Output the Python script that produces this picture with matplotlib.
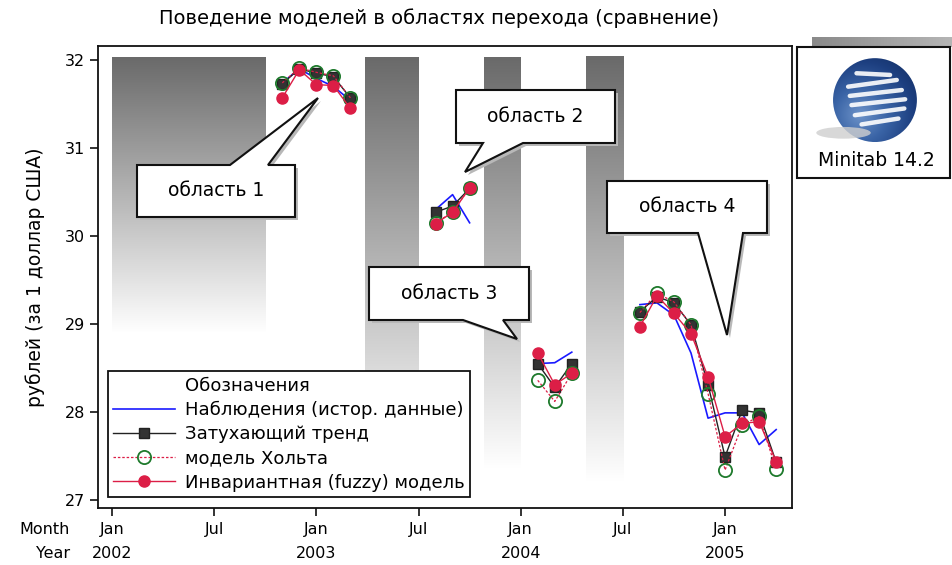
import numpy as np
import matplotlib
matplotlib.use("Agg")
import matplotlib.pyplot as plt
from matplotlib.colors import LinearSegmentedColormap
from matplotlib.lines import Line2D
from matplotlib.patches import Polygon, Rectangle, Circle, Ellipse

plt.rcParams['font.family'] = ['DejaVu Sans']

# ---------------- data ----------------
title = "Поведение моделей в областях перехода (сравнение)"
ylabel = "рублей (за 1 доллар США)"
series_names = ["Наблюдения (истор. данные)", "Затухающий тренд",
                "модель Хольта", "Инвариантная (fuzzy) модель"]
legend_title = "Обозначения"

# months counted from Jan 2002 (0 = Jan 2002)
region_months = [
    [10, 11, 12, 13, 14],                    # Nov 2002 - Mar 2003
    [19, 20, 21],                            # Aug 2003 - Oct 2003
    [25, 26, 27],                            # Feb 2004 - Apr 2004
    [31, 32, 33, 34, 35, 36, 37, 38, 39],    # Aug 2004 - Apr 2005
]
observed = [
    [31.74, 31.90, 31.79, 31.70, 31.54],
    [30.30, 30.47, 30.15],
    [28.55, 28.56, 28.68],
    [29.22, 29.24, 29.10, 28.67, 27.93, 27.99, 27.99, 27.63, 27.80],
]
damped = [
    [31.73, 31.90, 31.85, 31.81, 31.57],
    [30.27, 30.34, 30.54],
    [28.55, 28.28, 28.55],
    [29.14, 29.31, 29.24, 28.99, 28.31, 27.49, 28.02, 27.99, 27.43],
]
holt = [
    [31.74, 31.91, 31.86, 31.82, 31.57],
    [30.15, 30.27, 30.55],
    [28.36, 28.12, 28.44],
    [29.13, 29.35, 29.25, 28.99, 28.21, 27.34, 27.85, 27.95, 27.35],
]
fuzzy = [
    [31.57, 31.89, 31.72, 31.71, 31.45],
    [30.14, 30.27, 30.545],
    [28.67, 28.31, 28.44],
    [28.97, 29.32, 29.12, 28.89, 28.40, 27.72, 27.87, 27.89, 27.435],
]
# shaded transition bands: (start month, end month, value where it fades out)
bands = [(0.0, 9.0, 28.9), (14.85, 18.0, 27.35), (21.85, 24.0, 27.35), (27.85, 30.07, 27.2)]
band_top = 32.03

callout_texts = ["область 1", "область 2", "область 3", "область 4"]

tick_months = [0, 6, 12, 18, 24, 30, 36]
month_labels = ["Jan", "Jul", "Jan", "Jul", "Jan", "Jul", "Jan"]
year_labels = ["2002", "", "2003", "", "2004", "", "2005"]
yticks = [27, 28, 29, 30, 31, 32]

# ---------------- figure ----------------
W, H = 953, 565
fig = plt.figure(figsize=(W / 100, H / 100), dpi=100)
fig.patch.set_facecolor("white")


def fx(px):
    return px / W


def fy(py):
    return 1 - py / H


ax_l, ax_r, ax_t, ax_b = 98, 792, 46, 508
ax = fig.add_axes([fx(ax_l), fy(ax_b), fx(ax_r - ax_l), (ax_b - ax_t) / H])
ax.set_xlim(-0.82, 39.93)
ax.set_ylim(26.909, 32.159)

# gradient bands
cmap_band = LinearSegmentedColormap.from_list("band", ["#6a6a6a", "#ffffff"])
grad = np.linspace(0, 1, 256).reshape(-1, 1)
for x0, x1, ybot in bands:
    ax.imshow(grad, cmap=cmap_band, aspect="auto", extent=[x0, x1, ybot, band_top],
              origin="upper", zorder=0.5, interpolation="bilinear")

RED = "#dc1e46"
GREEN = "#1e7a2c"
for i, m in enumerate(region_months):
    lab = (lambda s: s) if i == 0 else (lambda s: "_nolegend_")
    ax.plot(m, observed[i], color="#1a1aff", lw=1.2, zorder=3, label=lab(series_names[0]))
    ax.plot(m, damped[i], color="#222222", lw=1.0, marker="s", ms=7.5,
            mfc="#333333", mec="#222222", zorder=4, label=lab(series_names[1]))
    ax.plot(m, holt[i], color=RED, lw=0.9, ls=(0, (2, 1.5)), marker="o", ms=9.5,
            mfc="none", mec=GREEN, mew=1.3, zorder=5, label=lab(series_names[2]))
    ax.plot(m, fuzzy[i], color=RED, lw=1.0, marker="o", ms=8,
            mfc=RED, mec=RED, zorder=6, label=lab(series_names[3]))

# axes styling
for s in ax.spines.values():
    s.set_linewidth(1.3)
    s.set_color("#111111")
ax.set_yticks(yticks)
ax.set_yticklabels([str(v) for v in yticks], fontsize=11.5)
ax.set_xticks(tick_months)
ax.set_xticklabels([f"{a}\n{b}" for a, b in zip(month_labels, year_labels)],
                   fontsize=11.5, linespacing=1.75)
ax.tick_params(axis="both", direction="out", length=6, width=1.2, color="#111111")
ax.tick_params(axis="x", pad=4)
ax.set_ylabel(ylabel, fontsize=13.5, labelpad=14)
fig.text(fx(70), fy(530), "Month", ha="right", va="center", fontsize=11.5)
fig.text(fx(70), fy(553), "Year", ha="right", va="center", fontsize=11.5)
fig.text(fx(439), fy(18), title, ha="center", va="center", fontsize=14)

# legend
handles, labels = ax.get_legend_handles_labels()
handles = [Line2D([], [], color="none")] + handles
labels = [legend_title] + labels
leg = ax.legend(handles, labels, loc="lower left",
                bbox_to_anchor=((108 - ax_l) / (ax_r - ax_l), (ax_b - 497) / (ax_b - ax_t)),
                borderaxespad=0, fontsize=13, handlelength=3.4, handletextpad=0.55,
                labelspacing=0.34, borderpad=0.3, fancybox=False, framealpha=1,
                edgecolor="#111111")
leg.get_frame().set_linewidth(1.3)
leg.set_zorder(8)


# callouts (pixel geometry)
def callout(L, R, T, B, p1, p2, apex, top, text):
    if top:
        pts = [(L, B), (R, B), (R, T), (p2, T), apex, (p1, T), (L, T)]
    else:
        pts = [(L, T), (R, T), (R, B), (p2, B), apex, (p1, B), (L, B)]
    sh = [(fx(x + 3), fy(y + 3)) for x, y in pts]
    fig.patches.append(Polygon(sh, closed=True, transform=fig.transFigure,
                               facecolor="#b8b8b8", edgecolor="none", zorder=9))
    fp = [(fx(x), fy(y)) for x, y in pts]
    fig.patches.append(Polygon(fp, closed=True, transform=fig.transFigure,
                               facecolor="white", edgecolor="#111111", lw=1.5, zorder=10,
                               joinstyle="miter"))
    fig.text(fx((L + R) / 2), fy((T + B) / 2), text, ha="center", va="center",
             fontsize=13.5, zorder=11)


callout(137, 295, 165, 217, 230, 268, (318, 98), True, callout_texts[0])
callout(456, 615, 90, 143, 483, 523, (465, 172), False, callout_texts[1])
callout(369, 529, 267, 320, 463, 503, (517, 339), False, callout_texts[2])
callout(607, 767, 181, 233, 698, 743, (727, 335), False, callout_texts[3])

# logo box
cmap_bar = LinearSegmentedColormap.from_list("bar", ["#8a8a8a", "#b5b5b5"])
bar_ax = fig.add_axes([fx(812), fy(47), fx(953 - 812), 10 / H])
bar_ax.imshow(np.linspace(0, 1, 100).reshape(1, -1), cmap=cmap_bar, aspect="auto")
bar_ax.axis("off")
fig.patches.append(Rectangle((fx(797), fy(178)), fx(950 - 797), (178 - 47) / H,
                             transform=fig.transFigure, facecolor="white",
                             edgecolor="#111111", lw=1.5, zorder=5))
fig.text(fx(876), fy(160), "Minitab 14.2", ha="center", va="center", fontsize=13.5, zorder=6)

lx, ly, r = 875, 100, 42
logo = fig.add_axes([fx(lx - 60), fy(ly + 50), fx(104), 104 / H], zorder=6)
logo.set_xlim(-1.43, 1.05)
logo.set_ylim(-1.19, 1.29)
logo.axis("off")
logo.add_patch(Ellipse((-0.75, -0.78), 1.3, 0.28, facecolor="#cfcfcf", edgecolor="none", alpha=0.8))
yy, xx = np.mgrid[-1:1:300j, -1:1:300j]
d = np.sqrt((xx + 0.35) ** 2 + (yy + 0.35) ** 2)
cmap_s = LinearSegmentedColormap.from_list("sph", ["#6d93c9", "#3a64a6", "#1d3f80", "#102a5c"])
img = logo.imshow(d, cmap=cmap_s, extent=[-1, 1, -1, 1], origin="lower", vmin=0, vmax=1.9)
circ = Circle((0, 0), 1, transform=logo.transData)
img.set_clip_path(circ)
stripes = [((-0.44, 0.64), (0.36, 0.60)), ((-0.64, 0.32), (0.52, 0.48)),
           ((-0.60, 0.10), (0.64, 0.24)), ((-0.56, -0.12), (0.72, 0.02)),
           ((-0.48, -0.36), (0.70, -0.20)), ((-0.32, -0.58), (0.56, -0.44))]
for (a, b) in stripes:
    logo.plot([a[0], b[0]], [a[1], b[1]], color="white", lw=3.2, alpha=0.9,
              solid_capstyle="round")

fig.savefig("out.png", dpi=100)
